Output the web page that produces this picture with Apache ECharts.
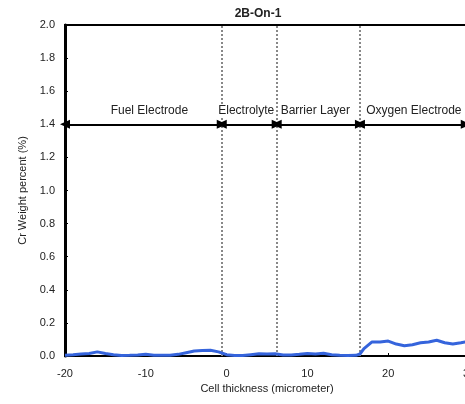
<!DOCTYPE html>
<html>
<head>
<meta charset="utf-8">
<script src="https://cdn.jsdelivr.net/npm/echarts@6/dist/echarts.min.js"></script>
<style>
  html, body { margin: 0; padding: 0; background: #fff; overflow: hidden; }
  #chart { width: 465px; height: 404px; }
</style>
</head>
<body>
<div id="chart"></div>
<script>
// Cr profile across the cell (micrometer vs weight %)
const thickness = [-20, -19, -18, -17, -16, -15, -14, -13, -12, -11, -10, -9, -8, -7, -6, -5, -4, -3, -2, -1,
  0, 1, 2, 3, 4, 5, 6, 7, 8, 9, 10, 11, 12, 13, 14, 15, 16, 16.5, 17, 18, 19, 20, 21, 22, 23, 24, 25, 26, 27, 28, 29, 30];
const crWeight = [0.005, 0.008, 0.012, 0.015, 0.025, 0.015, 0.008, 0.003, 0.004, 0.006, 0.010, 0.005, 0.004, 0.005, 0.010, 0.020, 0.030, 0.033, 0.035, 0.025,
  0.008, 0.003, 0.003, 0.008, 0.013, 0.012, 0.014, 0.006, 0.006, 0.010, 0.015, 0.012, 0.016, 0.008, 0.004, 0.003, 0.004, 0.012, 0.045, 0.085, 0.085, 0.090, 0.072, 0.062, 0.068, 0.080, 0.085, 0.095, 0.080, 0.072, 0.080, 0.090];

// Layer boundaries and names
const boundaries = [-0.6, 6.2, 16.5];
const layerNames = ['Fuel Electrode', 'Electrolyte', 'Barrier Layer', 'Oxygen Electrode'];
const layerSpans = [[-20, -0.6], [-0.6, 6.2], [6.2, 16.5], [16.5, 29.6]];
const arrowLevel = 1.4;

const yTicks = [0, 0.2, 0.4, 0.6, 0.8, 1.0, 1.2, 1.4, 1.6, 1.8, 2.0];
const xTicks = [-20, -10, 0, 10, 20, 30];

// small horizontal nudges for the layer captions
const captionShift = [6, -3, -3, 1];

const FONT = '"Liberation Sans", Arial, sans-serif';
const chart = echarts.init(document.getElementById('chart'));

chart.setOption({
  animation: false,
  title: {
    text: '2B-On-1',
    left: 253, top: 3, textAlign: 'center',
    textStyle: { fontFamily: FONT, fontSize: 12, fontWeight: 'bold', color: '#222' }
  },
  grid: {
    left: 65, top: 25, height: 331, width: 404,
    outerBoundsMode: 'none', containLabel: false,
    show: true, borderColor: '#000', borderWidth: 2, backgroundColor: 'transparent'
  },
  xAxis: {
    type: 'value', min: xTicks[0], max: xTicks[xTicks.length - 1], interval: 10,
    name: 'Cell thickness (micrometer)', nameLocation: 'middle', nameGap: 27,
    nameTextStyle: { fontFamily: FONT, fontSize: 11, color: '#222' },
    axisLine: { onZero: false, lineStyle: { color: '#000', width: 2 } },
    axisTick: { inside: true, length: 3, lineStyle: { color: '#000' } },
    axisLabel: { fontFamily: FONT, fontSize: 11, color: '#222', margin: 12, showMaxLabel: true },
    splitLine: { show: false }
  },
  yAxis: {
    type: 'value', min: yTicks[0], max: yTicks[yTicks.length - 1], interval: 0.2,
    name: 'Cr Weight percent (%)', nameLocation: 'middle', nameGap: 31,
    nameTextStyle: { fontFamily: FONT, fontSize: 11, color: '#222' },
    axisLine: { show: true, onZero: false, lineStyle: { color: '#000', width: 3 } },
    axisTick: { show: true, inside: true, length: 3, lineStyle: { color: '#000' } },
    axisLabel: { fontFamily: FONT, fontSize: 11, color: '#222', margin: 10, formatter: v => v.toFixed(1) },
    splitLine: { show: false }
  },
  series: [
    {
      // layer boundaries
      type: 'line', data: [], silent: true,
      markLine: {
        silent: true, animation: false,
        symbol: 'none',
        label: { show: false },
        lineStyle: { color: '#888', type: [2, 2], width: 2 },
        data: boundaries.map(b => ({ xAxis: b }))
      }
    },
    {
      // annotated spans with double arrows
      type: 'line', data: [], silent: true,
      markLine: {
        silent: true, animation: false,
        symbol: ['triangle', 'triangle'], symbolSize: [9, 10],
        lineStyle: { color: '#000', type: 'solid', width: 2 },
        label: {
          show: true, position: 'insideMiddleTop', distance: 8,
          fontFamily: FONT, fontSize: 12, color: '#222',
          backgroundColor: '#fff', padding: [0, 1],
          formatter: p => p.name
        },
        data: layerSpans.map((s, i) => [
          { name: layerNames[i], coord: [s[0], arrowLevel], label: { offset: [captionShift[i], 0] } },
          { coord: [s[1], arrowLevel] }
        ])
      }
    },
    {
      name: 'Cr', type: 'line', z: 5,
      data: thickness.map((x, i) => [x, crWeight[i]]),
      showSymbol: false, smooth: false,
      lineStyle: { color: '#3564dc', width: 3 }
    }
  ]
});
</script>
</body>
</html>
